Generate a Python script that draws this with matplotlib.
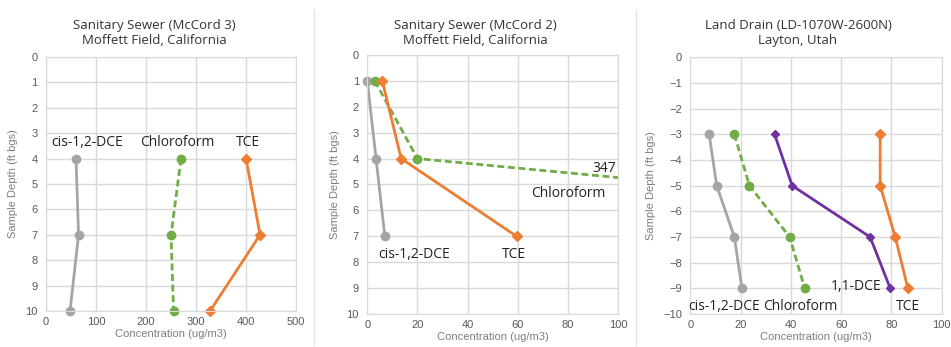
import numpy as np
import matplotlib.pyplot as plt
from matplotlib.lines import Line2D

# Panel 1: Sanitary Sewer (McCord 3)
p1_depth = [4, 7, 10]
p1_cis = [60, 65, 48]
p1_chl = [270, 250, 255]
p1_tce = [400, 428, 328]

# Panel 2: Sanitary Sewer (McCord 2)
p2_depth = [1, 4, 7]
p2_cis = [0, 3.5, 7]
p2_chl = [3, 20, 347]
p2_tce = [6, 13.5, 59.5]

# Panel 3: Land Drain (LD-1070W-2600N)
p3_depth = [-3, -5, -7, -9]
p3_cis = [7.5, 10.5, 17.5, 20.5]
p3_chl = [17.5, 23.5, 39.5, 45.5]
p3_dce11 = [33.5, 40.5, 71.5, 79.5]
p3_tce = [75.5, 75.5, 81.5, 86.5]

titles = ['Sanitary Sewer (McCord 3)\nMoffett Field, California',
          'Sanitary Sewer (McCord 2)\nMoffett Field, California',
          'Land Drain (LD-1070W-2600N)\nLayton, Utah']

GRAY = '#A5A5A5'
GREEN = '#70AD47'
ORANGE = '#ED7D31'
PURPLE = '#7030A0'
TICKC = '#595959'
LABC = '#7F7F7F'
GRIDC = '#D9D9D9'
TFONT = ['Open Sans', 'DejaVu Sans']
KFONT = ['Liberation Sans', 'DejaVu Sans']

fig = plt.figure(figsize=(9.51, 3.47), dpi=100)
ax1 = fig.add_axes([0.0484, 0.1037, 0.2629, 0.732])
ax2 = fig.add_axes([0.3862, 0.0951, 0.2639, 0.7464])
ax3 = fig.add_axes([0.7259, 0.0951, 0.2644, 0.7398])

dash = (0, (2.5, 1.3))

def style(ax, xlim, xticks, ylim, yticks, title, tx):
    ax.set_xlim(xlim)
    ax.set_ylim(ylim)
    ax.set_xticks(xticks)
    ax.set_yticks(yticks)
    ax.grid(True, color=GRIDC, lw=1)
    ax.set_axisbelow(True)
    for s in ax.spines.values():
        s.set_color(GRIDC)
    ax.tick_params(length=0, labelsize=8, colors=TICKC)
    ax.tick_params(axis='x', pad=4)
    ax.tick_params(axis='y', pad=6)
    for lab in ax.get_xticklabels() + ax.get_yticklabels():
        lab.set_family(KFONT)
    ax.set_xlabel('Concentration (ug/m3)', fontsize=8, color=LABC, family=KFONT, labelpad=2)
    ax.set_ylabel('Sample Depth (ft bgs)', fontsize=8, color=LABC, family=KFONT, labelpad=5)
    fig.text(tx, 0.905, title, ha='center', va='center', fontsize=9.5, family=TFONT,
             color='#333333', linespacing=1.2)

def note(ax, x, y, s):
    ax.text(x, y, s, ha='center', va='center', fontsize=10, family=TFONT, color='#222222')

# panel 1
ax1.plot(p1_cis, p1_depth, color=GRAY, lw=2, marker='o', ms=6, clip_on=False)
ax1.plot(p1_chl, p1_depth, color=GREEN, lw=2, ls=dash, marker='o', ms=6, clip_on=False)
ax1.plot(p1_tce, p1_depth, color=ORANGE, lw=2, marker='D', ms=5.5, clip_on=False)
style(ax1, (0, 500), np.arange(0, 501, 100), (10, 0), np.arange(0, 11, 1), titles[0], 154/951)
note(ax1, 83, 3.37, 'cis-1,2-DCE')
note(ax1, 263, 3.37, 'Chloroform')
note(ax1, 404, 3.37, 'TCE')

# panel 2 (chloroform runs off the axis to 347)
ax2.plot(p2_cis, p2_depth, color=GRAY, lw=2, marker='o', ms=6, clip_on=False)
ax2.plot(p2_chl, p2_depth, color=GREEN, lw=2, ls=dash, marker='o', ms=6)
ax2.plot(p2_tce, p2_depth, color=ORANGE, lw=2, marker='D', ms=5.5, clip_on=False)
style(ax2, (0, 100), np.arange(0, 101, 20), (10, 0), np.arange(0, 11, 1), titles[1], 475/951)
note(ax2, 94.5, 4.4, '347')
note(ax2, 80, 5.33, 'Chloroform')
note(ax2, 18.6, 7.72, 'cis-1,2-DCE')
note(ax2, 58.6, 7.72, 'TCE')

# panel 3
ax3.plot(p3_cis, p3_depth, color=GRAY, lw=2, marker='o', ms=6, clip_on=False)
ax3.plot(p3_chl, p3_depth, color=GREEN, lw=2, ls=dash, marker='o', ms=6, clip_on=False)
ax3.plot(p3_dce11, p3_depth, color=PURPLE, lw=2, marker='D', ms=4.5, clip_on=False)
ax3.plot(p3_tce, p3_depth, color=ORANGE, lw=2, marker='D', ms=5.5, clip_on=False)
style(ax3, (0, 100), np.arange(0, 101, 20), (-10, 0), np.arange(-10, 1, 1), titles[2], 798/951)
note(ax3, 13.5, -9.69, 'cis-1,2-DCE')
note(ax3, 43.6, -9.69, 'Chloroform')
note(ax3, 65.8, -8.94, '1,1-DCE')
note(ax3, 86.7, -9.69, 'TCE')

# panel separators
for xs in (314/951, 636/951):
    fig.add_artist(Line2D([xs, xs], [0.006, 0.971], transform=fig.transFigure,
                          color='#E3E3E3', lw=1))

fig.savefig('out.png', dpi=100)
